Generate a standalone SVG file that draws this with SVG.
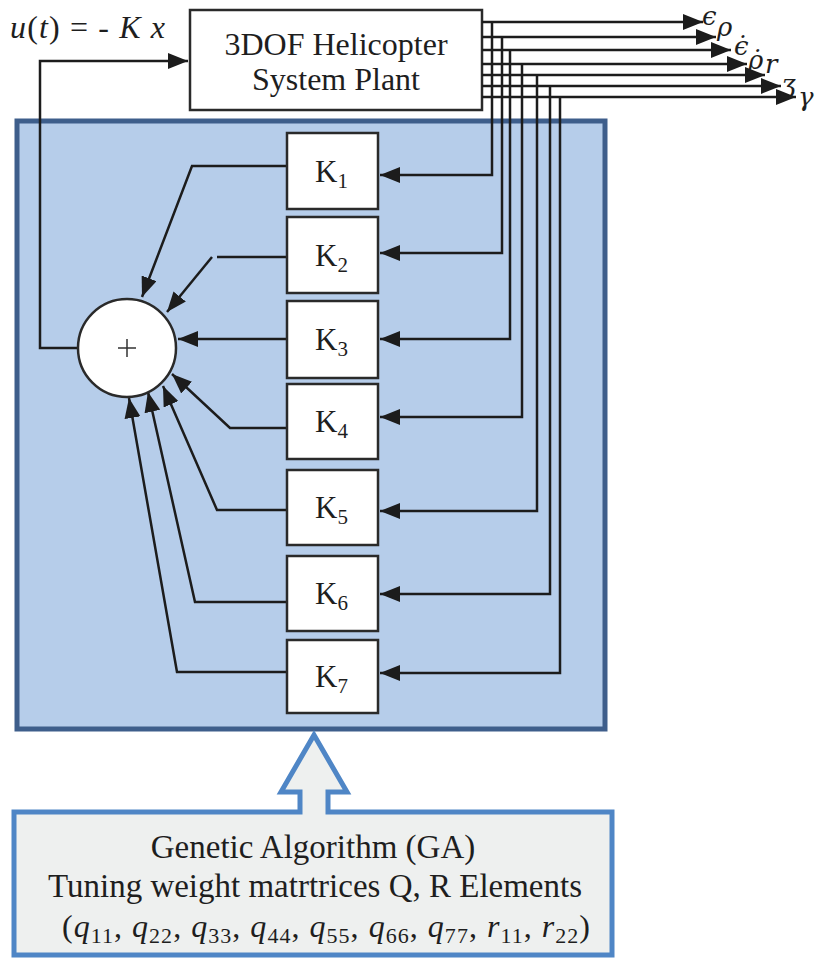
<svg xmlns="http://www.w3.org/2000/svg" width="817" height="962" viewBox="0 0 817 962">
  <style>
    .ln { fill: none; stroke: #1c1c1c; stroke-width: 2.5; }
    .box { fill: #ffffff; stroke: #2a2a2a; stroke-width: 2.5; }
    .serif { font-family: "Liberation Serif", "DejaVu Serif", serif; fill: #1e1e1e; }
    .math { font-family: "Liberation Serif", "DejaVu Serif", serif; font-style: italic; fill: #1e1e1e; }
    .sym { font-family: "DejaVu Serif", "Liberation Serif", serif; font-style: italic; font-size: 26px; fill: #1e1e1e; }
    .klab { font-size: 31px; }
    .ksub { font-size: 21px; }
  </style>
  <defs>
    <marker id="ah" markerUnits="userSpaceOnUse" markerWidth="20" markerHeight="16" refX="20" refY="8" orient="auto">
      <path d="M0,0 L20,8 L0,16 z" fill="#1c1c1c"/>
    </marker>
  </defs>

  <!-- controller panel -->
  <rect id="panel" x="17" y="121" width="588" height="608" fill="#b6cdea" stroke="#3e5e8b" stroke-width="5"/>

  <!-- GA block with upward arrow -->
  <g id="ga">
    <path d="M14 812 H300 V792 H281 L314 735 L347 792 H328 V812 H612 V955 H14 Z" fill="#eef0ef" stroke="#4f86c6" stroke-width="5" stroke-linejoin="miter"/>
    <text class="serif" x="313" y="858" font-size="33" text-anchor="middle">Genetic Algorithm (GA)</text>
    <text class="serif" x="315" y="897" font-size="33" text-anchor="middle">Tuning weight matrtrices Q, R Elements</text>
    <text class="serif" x="62" y="937" font-size="32" textLength="528" lengthAdjust="spacing">(<tspan class="math">q</tspan><tspan font-size="22" dy="6">11</tspan><tspan dy="-6">, </tspan><tspan class="math">q</tspan><tspan font-size="22" dy="6">22</tspan><tspan dy="-6">, </tspan><tspan class="math">q</tspan><tspan font-size="22" dy="6">33</tspan><tspan dy="-6">, </tspan><tspan class="math">q</tspan><tspan font-size="22" dy="6">44</tspan><tspan dy="-6">, </tspan><tspan class="math">q</tspan><tspan font-size="22" dy="6">55</tspan><tspan dy="-6">, </tspan><tspan class="math">q</tspan><tspan font-size="22" dy="6">66</tspan><tspan dy="-6">, </tspan><tspan class="math">q</tspan><tspan font-size="22" dy="6">77</tspan><tspan dy="-6">, </tspan><tspan class="math">r</tspan><tspan font-size="22" dy="6">11</tspan><tspan dy="-6">, </tspan><tspan class="math">r</tspan><tspan font-size="22" dy="6">22</tspan><tspan dy="-6">)</tspan></text>
  </g>

  <!-- plant -->
  <g id="plant">
    <rect class="box" x="190" y="10" width="292" height="100"/>
    <text class="serif" x="336" y="55" font-size="32" text-anchor="middle">3DOF Helicopter</text>
    <text class="serif" x="336" y="90" font-size="32" text-anchor="middle">System Plant</text>
  </g>

  <!-- control law label -->
  <text id="law" class="serif" x="10" y="38" font-size="32" textLength="155" lengthAdjust="spacing"><tspan class="math">u</tspan>(<tspan class="math">t</tspan>) = - <tspan class="math">K x</tspan></text>

  <!-- connectors -->
  <g id="connectors">
    <!-- feedback from summer to plant input -->
    <path class="ln" d="M78 348 H40 V61 H188" marker-end="url(#ah)"/>

    <!-- plant outputs -->
    <path class="ln" d="M482 22 H703" marker-end="url(#ah)"/>
    <path class="ln" d="M482 37 H716" marker-end="url(#ah)"/>
    <path class="ln" d="M482 50 H731" marker-end="url(#ah)"/>
    <path class="ln" d="M482 64 H747" marker-end="url(#ah)"/>
    <path class="ln" d="M482 75 H765" marker-end="url(#ah)"/>
    <path class="ln" d="M482 86 H781" marker-end="url(#ah)"/>
    <path class="ln" d="M482 97 H796" marker-end="url(#ah)"/>

    <!-- state taps into the gains -->
    <path class="ln" d="M492 22 V175 H380" marker-end="url(#ah)"/>
    <path class="ln" d="M502 37 V253 H380" marker-end="url(#ah)"/>
    <path class="ln" d="M510 50 V339 H380" marker-end="url(#ah)"/>
    <path class="ln" d="M522 64 V417 H380" marker-end="url(#ah)"/>
    <path class="ln" d="M537 75 V511 H380" marker-end="url(#ah)"/>
    <path class="ln" d="M550 86 V594 H380" marker-end="url(#ah)"/>
    <path class="ln" d="M560 97 V673 H380" marker-end="url(#ah)"/>

    <!-- gains into the summer -->
    <path class="ln" d="M288 166 H192 L142 297" marker-end="url(#ah)"/>
    <path class="ln" d="M288 257 H217"/>
    <path class="ln" d="M212 257 L167 312" marker-end="url(#ah)"/>
    <path class="ln" d="M288 339 H178" marker-end="url(#ah)"/>
    <path class="ln" d="M288 428 H230 L172 374" marker-end="url(#ah)"/>
    <path class="ln" d="M288 510 H217 L163 386" marker-end="url(#ah)"/>
    <path class="ln" d="M288 602 H195 L148 392" marker-end="url(#ah)"/>
    <path class="ln" d="M288 672 H177 L129 398" marker-end="url(#ah)"/>
  </g>

  <!-- output symbols -->
  <g id="outputs" class="sym">
    <text x="702" y="25">ϵ</text>
    <text x="717" y="36">ρ</text>
    <text x="734" y="55">ϵ̇</text>
    <text x="748" y="69">ρ̇</text>
    <text x="765" y="73">r</text>
    <text x="781" y="93">ʒ</text>
    <text x="798" y="106">γ</text>
  </g>

  <!-- summing junction -->
  <g id="sum">
    <circle cx="127" cy="348" r="49" fill="#ffffff" stroke="#2a2a2a" stroke-width="2.5"/>
    <path d="M118 348 H136 M127 339 V357" stroke="#333" stroke-width="1.5" fill="none"/>
  </g>

  <!-- gain blocks -->
  <g id="K1"><rect class="box" x="287" y="133" width="91" height="76"/><text class="serif klab" x="315" y="182">K<tspan class="ksub" dy="6">1</tspan></text></g>
  <g id="K2"><rect class="box" x="287" y="217" width="91" height="76"/><text class="serif klab" x="315" y="266">K<tspan class="ksub" dy="6">2</tspan></text></g>
  <g id="K3"><rect class="box" x="287" y="301" width="91" height="77"/><text class="serif klab" x="315" y="350">K<tspan class="ksub" dy="6">3</tspan></text></g>
  <g id="K4"><rect class="box" x="287" y="384" width="91" height="75"/><text class="serif klab" x="315" y="432">K<tspan class="ksub" dy="6">4</tspan></text></g>
  <g id="K5"><rect class="box" x="287" y="470" width="91" height="75"/><text class="serif klab" x="315" y="518">K<tspan class="ksub" dy="6">5</tspan></text></g>
  <g id="K6"><rect class="box" x="287" y="556" width="91" height="75"/><text class="serif klab" x="315" y="604">K<tspan class="ksub" dy="6">6</tspan></text></g>
  <g id="K7"><rect class="box" x="287" y="640" width="91" height="73"/><text class="serif klab" x="315" y="687">K<tspan class="ksub" dy="6">7</tspan></text></g>
</svg>
